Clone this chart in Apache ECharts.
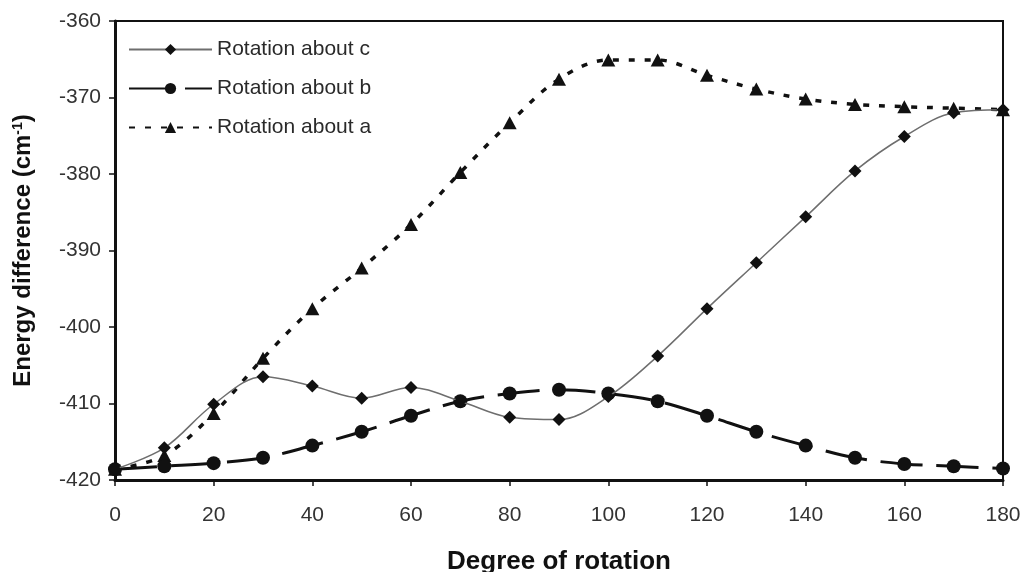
<!DOCTYPE html>
<html>
<head>
<meta charset="utf-8">
<script src="https://cdn.jsdelivr.net/npm/echarts@6/dist/echarts.min.js"></script>
<style>html,body{margin:0;padding:0;background:#fff}#c{width:1023px;height:572px}</style>
</head>
<body>
<div id="c"></div>
<script>
const degrees = [0,10,20,30,40,50,60,70,80,90,100,110,120,130,140,150,160,170,180];
const rotC = [-418.6,-415.8,-410.1,-406.5,-407.7,-409.3,-407.9,-409.7,-411.8,-412.1,-409.1,-403.8,-397.6,-391.6,-385.6,-379.6,-375.1,-372.0,-371.6];
const rotB = [-418.6,-418.2,-417.8,-417.1,-415.5,-413.7,-411.6,-409.7,-408.7,-408.2,-408.7,-409.7,-411.6,-413.7,-415.5,-417.1,-417.9,-418.2,-418.5];
const rotA = [-418.6,-416.8,-411.3,-404.1,-397.6,-392.3,-386.6,-379.8,-373.3,-367.6,-365.1,-365.1,-367.1,-368.9,-370.2,-370.9,-371.2,-371.4,-371.6];
const names = ['Rotation about c','Rotation about b','Rotation about a'];
const xTicks = {min:0, max:180, interval:20};
const yTicks = {min:-420, max:-360, interval:10};

const pair = (ys) => degrees.map((d,i)=>[d, ys[i]]);
const FONT = 'Liberation Sans, Arial, sans-serif';

const chart = echarts.init(document.getElementById('c'), null, {renderer:'canvas'});
chart.setOption({
  animation:false,
  backgroundColor:'#fff',
  textStyle:{fontFamily:FONT},
  grid:{left:115, right:20, top:21, bottom:92, show:true, borderColor:'#111', borderWidth:2,
        containLabel:false, outerBoundsMode:'none'},
  legend:{
    left:123, top:34, orient:'vertical', itemWidth:83, itemHeight:14, itemGap:18,
    textStyle:{fontSize:21, color:'#2a2a2a', fontFamily:FONT},
    data:names
  },
  xAxis:{
    type:'value', min:xTicks.min, max:xTicks.max, interval:xTicks.interval,
    name:'Degree of rotation', nameLocation:'middle', nameGap:69,
    nameTextStyle:{fontSize:26, fontWeight:'bold', color:'#111', fontFamily:FONT},
    axisLine:{lineStyle:{color:'#111', width:3}},
    axisTick:{show:true, inside:false, length:6, lineStyle:{color:'#111', width:1.5}},
    axisLabel:{fontSize:21, color:'#333', margin:25, fontFamily:FONT},
    splitLine:{show:false}
  },
  yAxis:{
    type:'value', min:yTicks.min, max:yTicks.max, interval:yTicks.interval,
    name:'{a|Energy difference (cm}{s|-1}{a|)}', nameLocation:'middle', nameGap:80, nameRotate:90,
    nameTextStyle:{rich:{
      a:{fontSize:24, fontWeight:'bold', color:'#111', fontFamily:FONT},
      s:{fontSize:14, fontWeight:'bold', color:'#111', fontFamily:FONT, verticalAlign:'top', padding:[0,0,10,0]}
    }},
    axisLine:{show:true, lineStyle:{color:'#111', width:3}},
    axisTick:{show:true, inside:false, length:6, lineStyle:{color:'#111', width:1.5}},
    axisLabel:{fontSize:21, color:'#333', margin:14, fontFamily:FONT},
    splitLine:{show:false}
  },
  series:[
    {name:names[0], type:'line', data:pair(rotC), smooth:0.35,
     symbol:'diamond', symbolSize:13, z:4,
     lineStyle:{color:'#6e6e6e', width:1.5},
     itemStyle:{color:'#111', borderWidth:0}},
    {name:names[1], type:'line', data:pair(rotB), smooth:0.35,
     symbol:'circle', symbolSize:14, z:3,
     lineStyle:{color:'#111', width:3, type:[42,14]},
     itemStyle:{color:'#111', borderWidth:0}},
    {name:names[2], type:'line', data:pair(rotA), smooth:0.35,
     symbol:'triangle', symbolSize:[14,13], z:2,
     lineStyle:{color:'#111', width:3.5, type:[6,10]},
     itemStyle:{color:'#111', borderWidth:0}}
  ]
});
</script>
</body>
</html>
